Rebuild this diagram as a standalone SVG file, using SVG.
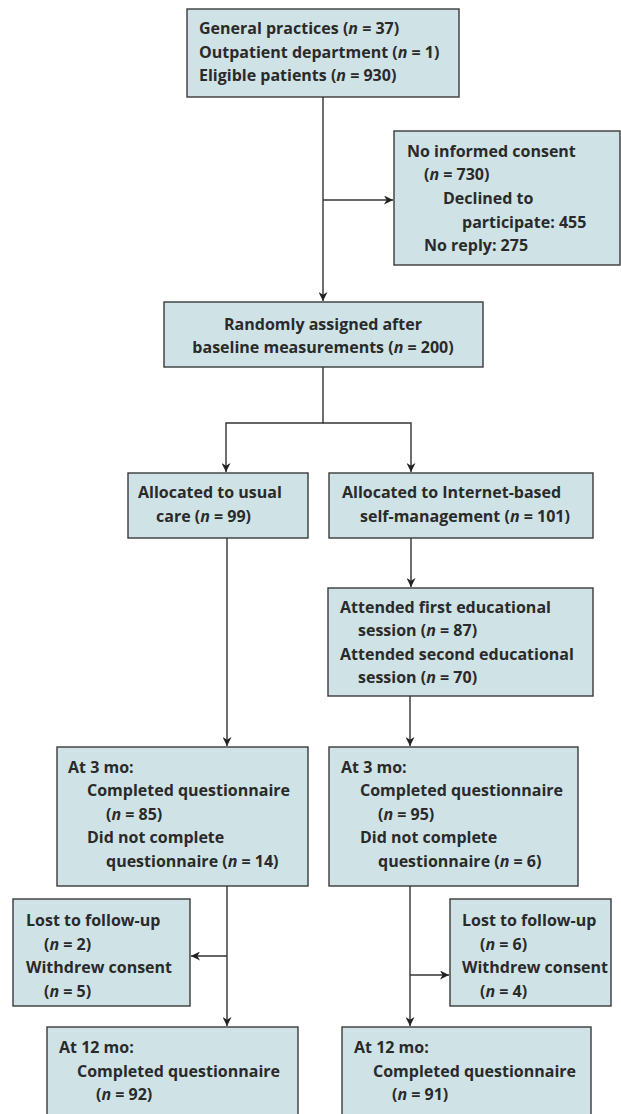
<svg xmlns="http://www.w3.org/2000/svg" width="621" height="1114" viewBox="0 0 621 1114">
<defs>
<style>
.box{fill:#cfe3e6;stroke:#3a3a3a;stroke-width:1.4}
.t{font-family:"Open Sans","Noto Sans",sans-serif;font-weight:bold;font-size:16px;fill:#2a2a2a}
.c{text-anchor:middle}
.i{font-style:italic}
.ln{fill:none;stroke:#333;stroke-width:1.4}
</style>
<marker id="ah" viewBox="0 0 10 10" refX="10" refY="5" markerWidth="9" markerHeight="9" markerUnits="userSpaceOnUse" orient="auto">
<path d="M0,0 L10,5 L0,10 L3,5 z" fill="#222"/>
</marker>
</defs>
<rect width="621" height="1114" fill="#fff"/>

<g id="connectors">
<line class="ln" x1="323" y1="97" x2="323" y2="301" marker-end="url(#ah)"/>
<line class="ln" x1="323" y1="200" x2="393" y2="200" marker-end="url(#ah)"/>
<polyline class="ln" points="323,367 323,423 226,423 226,472" marker-end="url(#ah)"/>
<polyline class="ln" points="323,423 411,423 411,472" marker-end="url(#ah)"/>
<line class="ln" x1="411" y1="538" x2="411" y2="587" marker-end="url(#ah)"/>
<line class="ln" x1="227" y1="538" x2="227" y2="746" marker-end="url(#ah)"/>
<line class="ln" x1="410" y1="696" x2="410" y2="746" marker-end="url(#ah)"/>
<line class="ln" x1="227" y1="886" x2="227" y2="1026" marker-end="url(#ah)"/>
<line class="ln" x1="227" y1="956" x2="191" y2="956" marker-end="url(#ah)"/>
<line class="ln" x1="410" y1="886" x2="410" y2="1026" marker-end="url(#ah)"/>
<line class="ln" x1="410" y1="975" x2="449" y2="975" marker-end="url(#ah)"/>
</g>

<g id="n-start">
<rect class="box" x="187" y="9" width="272" height="88"/>
<text class="t" x="199" y="34">General practices (<tspan class="i">n</tspan> = 37)</text>
<text class="t" x="199" y="58">Outpatient department (<tspan class="i">n</tspan> = 1)</text>
<text class="t" x="199" y="81">Eligible patients (<tspan class="i">n</tspan> = 930)</text>
</g>

<g id="n-noconsent">
<rect class="box" x="394" y="131" width="226" height="134"/>
<text class="t" x="407" y="157">No informed consent</text>
<text class="t" x="424" y="180">(<tspan class="i">n</tspan> = 730)</text>
<text class="t" x="443" y="204">Declined to</text>
<text class="t" x="462" y="228">participate: 455</text>
<text class="t" x="424" y="251">No reply: 275</text>
</g>

<g id="n-random">
<rect class="box" x="164" y="302" width="319" height="65"/>
<text class="t c" x="323" y="330">Randomly assigned after</text>
<text class="t c" x="323" y="353">baseline measurements (<tspan class="i">n</tspan> = 200)</text>
</g>

<g id="n-usual">
<rect class="box" x="128" y="473" width="180" height="65"/>
<text class="t" x="138" y="498">Allocated to usual</text>
<text class="t" x="156" y="522">care (<tspan class="i">n</tspan> = 99)</text>
</g>

<g id="n-internet">
<rect class="box" x="329" y="473" width="264" height="65"/>
<text class="t" x="342" y="498">Allocated to Internet-based</text>
<text class="t" x="360" y="522">self-management (<tspan class="i">n</tspan> = 101)</text>
</g>

<g id="n-sessions">
<rect class="box" x="328" y="588" width="265" height="108"/>
<text class="t" x="340" y="613">Attended first educational</text>
<text class="t" x="358" y="636">session (<tspan class="i">n</tspan> = 87)</text>
<text class="t" x="340" y="660">Attended second educational</text>
<text class="t" x="358" y="683">session (<tspan class="i">n</tspan> = 70)</text>
</g>

<g id="n-usual-3mo">
<rect class="box" x="57" y="747" width="251" height="139"/>
<text class="t" x="68" y="773">At 3 mo:</text>
<text class="t" x="87" y="796">Completed questionnaire</text>
<text class="t" x="106" y="820">(<tspan class="i">n</tspan> = 85)</text>
<text class="t" x="87" y="843">Did not complete</text>
<text class="t" x="106" y="867">questionnaire (<tspan class="i">n</tspan> = 14)</text>
</g>

<g id="n-internet-3mo">
<rect class="box" x="329" y="747" width="249" height="139"/>
<text class="t" x="341" y="773">At 3 mo:</text>
<text class="t" x="360" y="796">Completed questionnaire</text>
<text class="t" x="378" y="820">(<tspan class="i">n</tspan> = 95)</text>
<text class="t" x="360" y="843">Did not complete</text>
<text class="t" x="378" y="867">questionnaire (<tspan class="i">n</tspan> = 6)</text>
</g>

<g id="n-usual-lost">
<rect class="box" x="13" y="899" width="177" height="107"/>
<text class="t" x="26" y="926">Lost to follow-up</text>
<text class="t" x="44" y="950">(<tspan class="i">n</tspan> = 2)</text>
<text class="t" x="26" y="973">Withdrew consent</text>
<text class="t" x="44" y="997">(<tspan class="i">n</tspan> = 5)</text>
</g>

<g id="n-internet-lost">
<rect class="box" x="450" y="899" width="161" height="107"/>
<text class="t" x="462" y="926">Lost to follow-up</text>
<text class="t" x="480" y="950">(<tspan class="i">n</tspan> = 6)</text>
<text class="t" x="462" y="973">Withdrew consent</text>
<text class="t" x="480" y="997">(<tspan class="i">n</tspan> = 4)</text>
</g>

<g id="n-usual-12mo">
<rect class="box" x="47" y="1027" width="251" height="100"/>
<text class="t" x="59" y="1053">At 12 mo:</text>
<text class="t" x="77" y="1077">Completed questionnaire</text>
<text class="t" x="96" y="1100">(<tspan class="i">n</tspan> = 92)</text>
</g>

<g id="n-internet-12mo">
<rect class="box" x="342" y="1027" width="249" height="100"/>
<text class="t" x="354" y="1053">At 12 mo:</text>
<text class="t" x="373" y="1077">Completed questionnaire</text>
<text class="t" x="392" y="1100">(<tspan class="i">n</tspan> = 91)</text>
</g>
</svg>
